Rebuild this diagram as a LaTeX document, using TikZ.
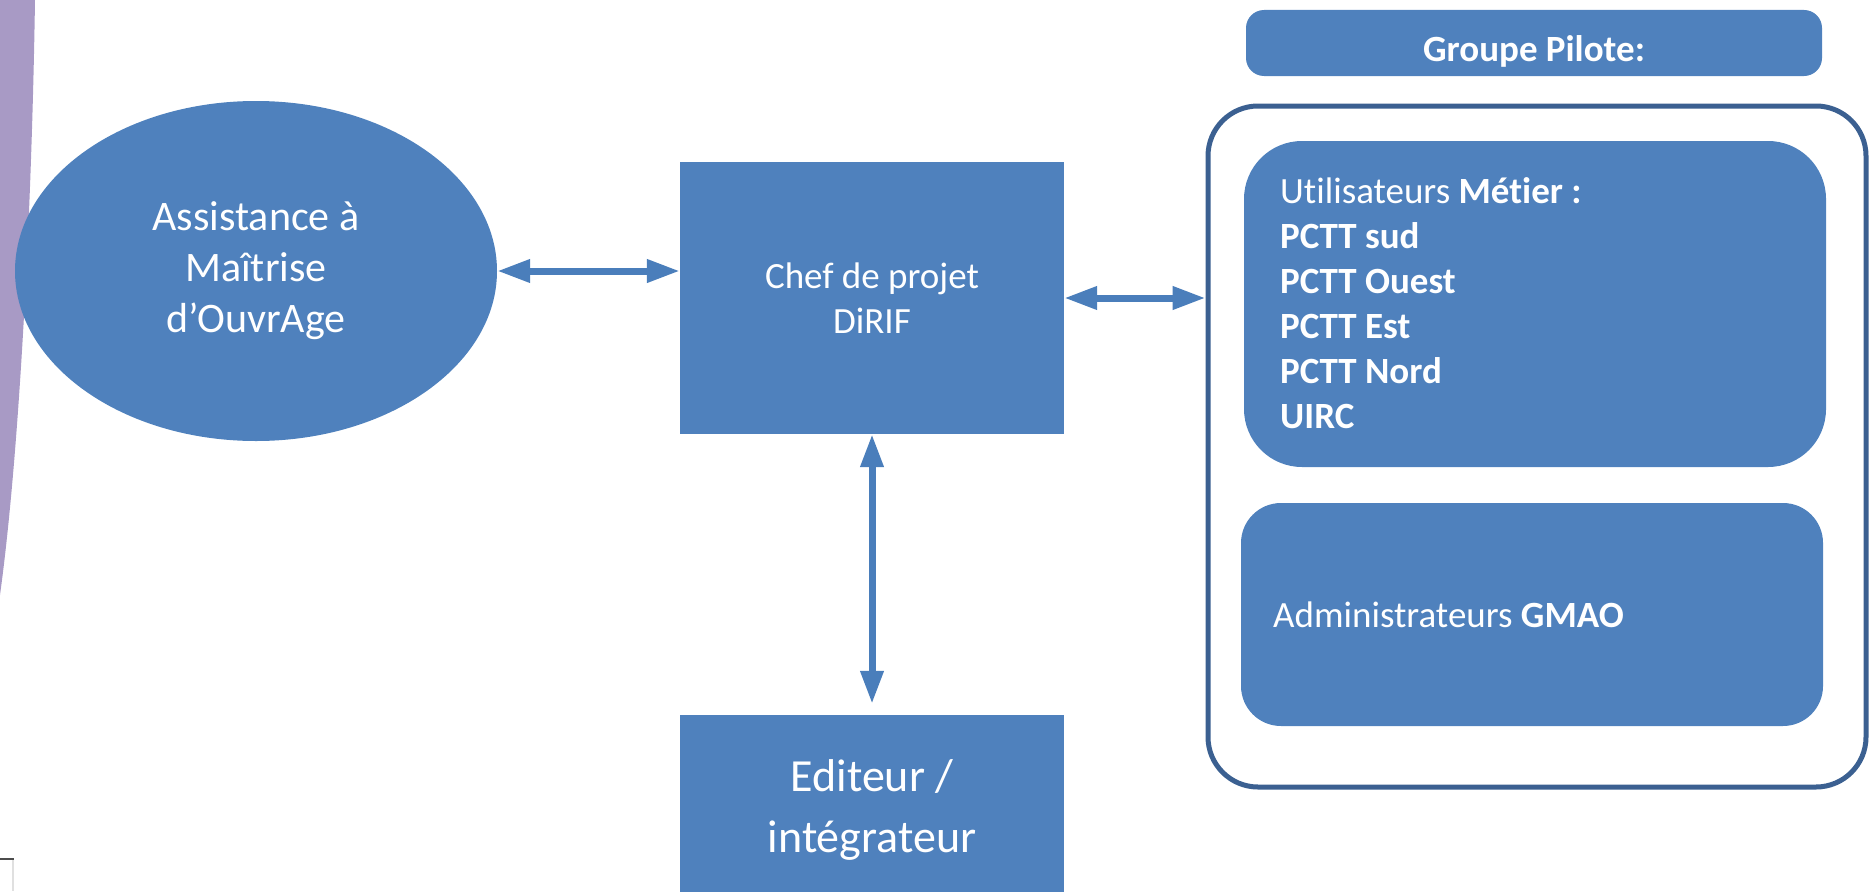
\documentclass[tikz,border=0pt]{standalone}
\usepackage{fontspec}
\setmainfont[Ligatures=NoCommon]{Carlito}
\usetikzlibrary{arrows.meta,shapes.geometric,calc}
\definecolor{boxblue}{HTML}{4F81BD}
\definecolor{arrblue}{HTML}{4A7EBB}
\definecolor{framec}{HTML}{3B6091}
\definecolor{lilac}{RGB}{168,154,197}
\begin{document}
\begin{tikzpicture}[x=1pt,y=-1pt,
  bluebox/.style={fill=boxblue, draw=none, inner sep=0pt, text=white},
  arr/.style={arrblue, line width=7pt,
    {Triangle[length=33pt,width=22pt]}-{Triangle[length=33pt,width=22pt]}},
  f37/.style={font=\fontsize{37}{45}\selectfont}]
\useasboundingbox (0,0) rectangle (1870,891);
\clip (0,0) rectangle (1870,891);
% purple band at the left edge
\fill[lilac] (0,0) -- (35,0) .. controls (32,200) and (20,450) .. (0,595) -- cycle;
% small corner mark
\draw[black!70, line width=1.5pt] (0,859) -- (14,859);
\draw[black!12, line width=2pt] (13,860) -- (13,891);
% nodes
\node[bluebox, ellipse, minimum width=482pt, minimum height=340pt, align=center,
  font=\fontsize{42}{51}\selectfont] (amo) at (256,271) {Assistance à\\Maîtrise\\d’OuvrAge};
\node[bluebox, rectangle, minimum width=384pt, minimum height=272pt, align=center, f37]
  (chef) at (872,298) {Chef de projet\\DiRIF};
\node[bluebox, rectangle, minimum width=384pt, minimum height=190pt, align=center,
  font=\fontsize{46}{61}\selectfont] (edit) at (872,810) {Editeur /\\intégrateur};
\node[bluebox, rounded corners=18pt, minimum width=576pt, minimum height=66pt] (gp) at (1534,43) {};
\node[text=white, f37, anchor=base, inner sep=0pt] (gpt) at (1534,61) {\textbf{Groupe Pilote:}};
\node[draw=framec, line width=5pt, rounded corners=50pt, minimum width=658pt, minimum height=681pt,
  inner sep=0pt] (grp) at (1537,446.5) {};
\node[bluebox, rounded corners=58pt, minimum width=582pt, minimum height=326pt] (util) at (1535,304) {};
\node[text=white, f37, anchor=north west, align=left, inner sep=0pt] (utilt) at (1280,177)
  {Utilisateurs \textbf{Métier :}\\\textbf{PCTT sud}\\\textbf{PCTT Ouest}\\\textbf{PCTT Est}\\\textbf{PCTT Nord}\\\textbf{UIRC}};
\node[bluebox, rounded corners=40pt, minimum width=582pt, minimum height=223pt] (adm) at (1532,614.5) {};
\node[text=white, f37, anchor=base west, inner sep=0pt] (admt) at (1273,627) {Administrateurs \textbf{GMAO}};
% connectors
\draw[arr] (amo.east) -- (amo.east -| chef.west);
\draw[arr] (chef.east) -- (chef.east -| grp.west);
\draw[arr, shorten >=11pt] (chef.south) -- (edit.north);
\end{tikzpicture}
\end{document}
